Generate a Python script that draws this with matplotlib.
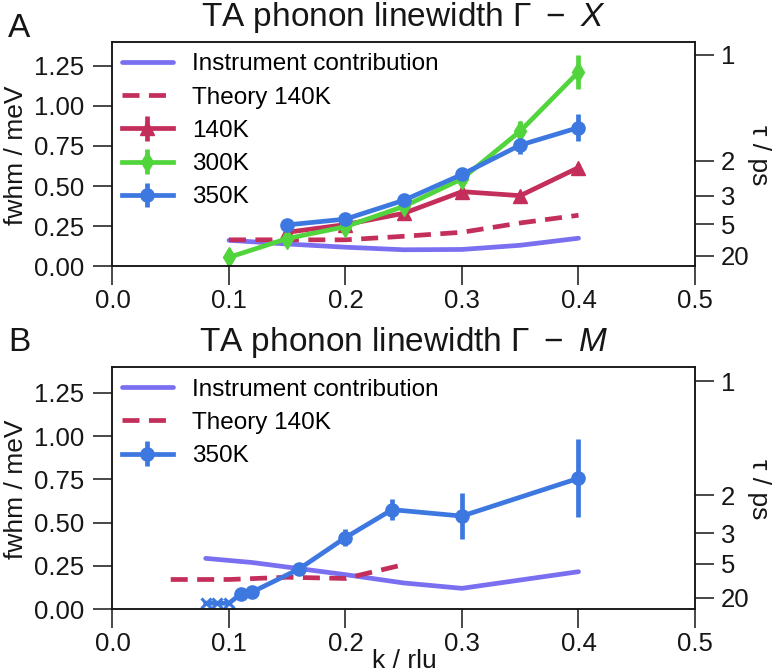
import numpy as np
import matplotlib
matplotlib.use("Agg")
import matplotlib.pyplot as plt
from matplotlib.ticker import FormatStrFormatter

plt.rcParams['font.family'] = ['Liberation Sans', 'DejaVu Sans']
plt.rcParams['mathtext.fontset'] = 'custom'
plt.rcParams['mathtext.rm'] = 'Liberation Sans'
plt.rcParams['mathtext.it'] = 'Liberation Sans:italic'
plt.rcParams['mathtext.sf'] = 'Liberation Sans'

# ---------------- data ----------------
# Panel A: Gamma - X
kA = [0.10, 0.15, 0.20, 0.25, 0.30, 0.35, 0.40]
instA = [0.162, 0.139, 0.119, 0.103, 0.105, 0.131, 0.175]
theoryA = [0.165, 0.165, 0.165, 0.187, 0.212, 0.270, 0.318]
k140 = [0.15, 0.20, 0.25, 0.30, 0.35, 0.40]
w140 = [0.212, 0.260, 0.330, 0.465, 0.440, 0.615]
e140 = [0.02, 0.02, 0.02, 0.02, 0.02, 0.02]
k300 = [0.10, 0.15, 0.20, 0.25, 0.30, 0.35, 0.40]
w300 = [0.056, 0.173, 0.247, 0.373, 0.545, 0.842, 1.210]
e300 = [0.02, 0.02, 0.02, 0.02, 0.03, 0.062, 0.104]
k350A = [0.15, 0.20, 0.25, 0.30, 0.35, 0.40]
w350A = [0.258, 0.294, 0.411, 0.572, 0.755, 0.864]
e350A = [0.02, 0.02, 0.02, 0.03, 0.057, 0.083]

# Panel B: Gamma - M
kinstB = [0.08, 0.12, 0.16, 0.20, 0.25, 0.30, 0.40]
instB = [0.294, 0.270, 0.235, 0.200, 0.152, 0.121, 0.217]
ktheoryB = [0.05, 0.10, 0.15, 0.20, 0.25]
theoryB = [0.172, 0.172, 0.185, 0.178, 0.258]
k350B = [0.08, 0.09, 0.10, 0.11, 0.12, 0.16, 0.20, 0.24, 0.30, 0.40]
w350B = [0.035, 0.035, 0.035, 0.088, 0.100, 0.232, 0.414, 0.575, 0.538, 0.756]
e350B = [0.0, 0.0, 0.0, 0.01, 0.01, 0.015, 0.049, 0.06, 0.135, 0.225]

tau_ticks = [1, 2, 3, 5, 20]
TWO_HBAR = 1.3164  # meV ps  (tau = 2*hbar / fwhm)

c_inst = '#7a6ff0'
c_theory = '#c42e5a'
c_140 = '#c42e5a'
c_300 = '#52d43c'
c_350 = '#3d78e0'
ink = '#161616'

LW = 3.4
TICK_FS = 18.5
LEG_FS = 17.5
LAB_FS = 19
TITLE_FS = 24


def style_axes(ax, leg_anchor):
    ax.set_xlim(0, 0.5)
    ax.set_ylim(0, 1.4)
    ax.set_xticks([0.0, 0.1, 0.2, 0.3, 0.4, 0.5])
    ax.set_yticks([0.0, 0.25, 0.5, 0.75, 1.0, 1.25])
    ax.xaxis.set_major_formatter(FormatStrFormatter('%.1f'))
    ax.yaxis.set_major_formatter(FormatStrFormatter('%.2f'))
    for s in ax.spines.values():
        s.set_linewidth(1.1)
        s.set_color(ink)
    ax.tick_params(axis='both', direction='out', length=13.7, width=1.1,
                   color=ink, labelcolor=ink, labelsize=TICK_FS)
    ax.tick_params(axis='y', pad=6.5)
    ax.tick_params(axis='x', pad=2.5)
    tw = ax.twinx()
    tw.set_ylim(ax.get_ylim())
    tw.set_yticks(TWO_HBAR / np.array(tau_ticks, float))
    tw.set_yticklabels([str(t) for t in tau_ticks])
    tw.tick_params(direction='out', length=13.7, width=1.1, color=ink,
                   labelcolor=ink, labelsize=TICK_FS, pad=5)
    for s in tw.spines.values():
        s.set_linewidth(1.1)
        s.set_color(ink)
    ax.legend(loc='upper left', bbox_to_anchor=(0.0, leg_anchor),
              frameon=False, fontsize=LEG_FS,
              handlelength=2.1, handletextpad=0.78, labelspacing=0.46,
              borderaxespad=0.0, borderpad=0.38)


fig = plt.figure(figsize=(7.73, 6.72), dpi=100)
axA = fig.add_axes([0.1455, 0.6037, 0.7536, 0.3345])
axB = fig.add_axes([0.1455, 0.0933, 0.7536, 0.3610])

# ---- Panel A ----
axA.plot(kA, instA, color=c_inst, lw=LW, label='Instrument contribution',
         solid_capstyle='round')
axA.plot(kA, theoryA, color=c_theory, lw=LW, ls=(0, (3.6, 2.0)),
         label='Theory 140K')
axA.errorbar(k140, w140, yerr=e140, color=c_140, marker='^', ms=10,
             lw=LW, elinewidth=LW, capsize=0, label='140K')
axA.errorbar(k300, w300, yerr=e300, color=c_300, marker='d', ms=10,
             lw=LW, elinewidth=LW, capsize=0, label='300K')
axA.errorbar(k350A, w350A, yerr=e350A, color=c_350, marker='o', ms=9.5,
             lw=LW, elinewidth=LW, capsize=0, label='350K')
axA.set_title(r'TA phonon linewidth $\Gamma\ -\ X$', fontsize=TITLE_FS,
              pad=11.5, color=ink)
style_axes(axA, 0.988)

# ---- Panel B ----
axB.plot(kinstB, instB, color=c_inst, lw=LW, label='Instrument contribution',
         solid_capstyle='round')
axB.plot(ktheoryB, theoryB, color=c_theory, lw=LW, ls=(0, (3.6, 2.0)),
         label='Theory 140K')
axB.errorbar(k350B, w350B, yerr=e350B, color=c_350, marker='o', ms=9.5,
             markevery=list(range(3, len(k350B))),
             lw=LW, elinewidth=LW, capsize=0, label='350K')
axB.plot(k350B[:3], w350B[:3], ls='none', marker='x', ms=7, mew=2.2,
         color=c_350)
axB.set_title(r'TA phonon linewidth $\Gamma\ -\ M$', fontsize=TITLE_FS,
              pad=11, color=ink)
style_axes(axB, 0.989)

# ---- labels ----
W, H = 773.0, 672.0
fig.text(8 / W, 1 - 37 / H, 'A', fontsize=24, ha='left', va='baseline', color=ink)
fig.text(8 / W, 1 - 351 / H, 'B', fontsize=24, ha='left', va='baseline', color=ink)
fig.text(16 / W, 1 - 155 / H, 'fwhm / meV', fontsize=LAB_FS, rotation=90,
         ha='center', va='center', color=ink)
fig.text(16 / W, 1 - 489 / H, 'fwhm / meV', fontsize=LAB_FS, rotation=90,
         ha='center', va='center', color=ink)
fig.text(759 / W, 1 - 155 / H, 'τ / ps', fontsize=LAB_FS, rotation=270,
         ha='center', va='center', color=ink)
fig.text(759 / W, 1 - 489 / H, 'τ / ps', fontsize=LAB_FS, rotation=270,
         ha='center', va='center', color=ink)
fig.text(404 / W, 1 - 668 / H, 'k / rlu', fontsize=LAB_FS, ha='center',
         va='baseline', color=ink)

fig.savefig('out.png', dpi=100)
